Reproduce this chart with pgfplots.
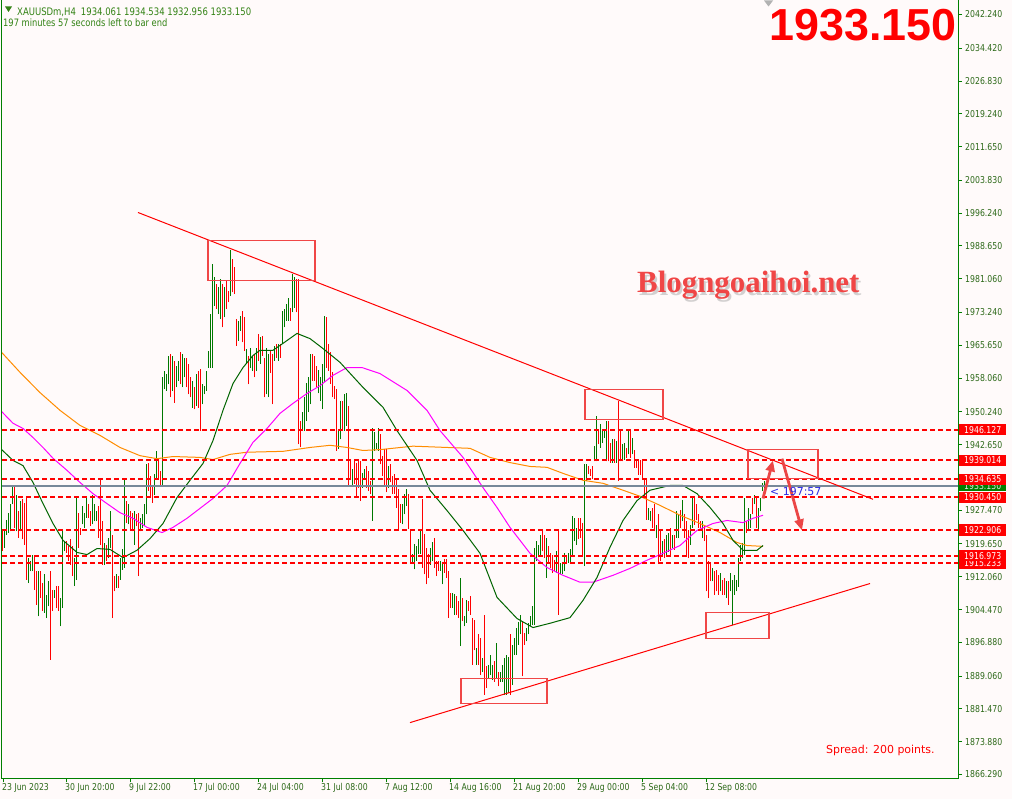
\documentclass[border=0pt]{standalone}
\usepackage{pgfplots}
\pgfplotsset{compat=1.18}
\usepackage{pgfplotstable}
\usepackage{fontspec}
\usetikzlibrary{arrows.meta}
\newfontfamily\tah{DejaVu Sans}[FakeStretch=0.82]
\newfontfamily\dvs{DejaVu Sans}
\newfontfamily\lsans{Liberation Sans}
\newfontfamily\lserif{Liberation Serif}

\definecolor{bg}{RGB}{255,250,250}
\definecolor{axgreen}{RGB}{0,128,0}
\definecolor{txtgreen}{RGB}{45,105,25}
\definecolor{hdrgreen}{RGB}{50,130,20}
\definecolor{barup}{RGB}{0,120,0}
\definecolor{bardn}{RGB}{255,0,0}
\definecolor{magreen}{RGB}{0,100,0}
\definecolor{magma}{RGB}{255,0,255}
\definecolor{orng}{RGB}{255,140,0}
\definecolor{slate}{RGB}{119,136,153}
\definecolor{boxred}{RGB}{240,70,70}
\definecolor{arrred}{RGB}{235,70,70}
\definecolor{lblblue}{RGB}{40,40,230}

% H4 bars: x (px), high, low, c (1 = up, 0 = down)
\pgfplotstableread{
x h l c
2.3 1922.6 1918.0 0
4.3 1922.6 1918.8 1
6.3 1925.3 1921.8 1
8.3 1926.9 1922.2 1
10.3 1928.8 1922.6 1
12.3 1933.3 1928.8 1
14.3 1933.3 1923.4 0
16.3 1931.1 1922.6 1
18.3 1927.3 1921.1 0
20.3 1929.6 1922.6 1
22.3 1930.0 1920.7 0
24.3 1929.2 1919.5 0
26.3 1930.7 1911.4 0
28.3 1916.4 1910.6 1
30.3 1915.7 1913.3 1
32.3 1917.2 1913.3 1
34.3 1917.2 1909.1 0
36.3 1913.3 1905.6 0
38.3 1913.3 1902.9 1
40.3 1913.3 1907.2 0
42.3 1910.6 1904.1 0
44.3 1912.6 1903.7 1
46.3 1907.9 1902.5 1
48.3 1911.0 1905.2 1
50.3 1913.3 1892.9 0
52.3 1909.1 1904.1 0
54.3 1909.1 1907.2 1
56.3 1909.9 1904.8 0
58.3 1909.9 1904.1 0
60.3 1907.2 1900.6 1
62.3 1923.0 1904.8 1
64.3 1920.3 1918.0 1
66.3 1920.3 1917.6 0
68.3 1919.1 1915.7 0
70.3 1920.7 1914.9 0
72.3 1919.1 1912.2 0
74.3 1916.4 1909.9 1
76.3 1930.7 1911.4 1
78.3 1926.9 1918.8 0
80.3 1923.4 1921.8 0
82.3 1928.4 1924.2 1
84.3 1926.9 1923.4 1
86.3 1930.7 1925.7 1
88.3 1928.8 1925.7 0
90.3 1927.3 1923.8 0
92.3 1931.1 1924.2 1
94.3 1928.8 1924.9 1
96.3 1927.3 1924.9 1
98.3 1928.4 1921.1 0
100.3 1935.0 1919.5 0
102.3 1924.9 1914.9 0
104.3 1919.9 1914.9 1
106.3 1919.5 1915.7 0
108.3 1921.1 1916.4 1
110.3 1927.3 1918.8 1
112.3 1921.8 1902.5 0
114.3 1912.2 1908.7 0
116.3 1912.6 1909.5 1
118.3 1912.2 1909.5 0
120.3 1916.4 1911.4 1
122.3 1918.4 1913.7 1
124.3 1935.0 1914.1 1
126.3 1929.6 1924.6 0
128.3 1928.8 1924.2 1
130.3 1927.3 1923.0 0
132.3 1926.9 1922.6 0
134.3 1927.3 1919.5 1
136.3 1926.5 1923.8 0
138.3 1926.9 1912.2 0
140.3 1925.7 1922.6 1
142.3 1926.5 1923.4 1
144.3 1928.8 1923.8 1
146.3 1938.1 1926.5 1
148.3 1938.5 1931.9 0
150.3 1935.4 1930.7 0
152.3 1933.1 1929.2 0
154.3 1935.8 1931.1 1
156.3 1941.2 1935.0 1
158.3 1939.2 1934.6 0
160.3 1936.5 1933.4 0
162.3 1958.2 1933.4 1
164.3 1959.7 1955.5 1
166.3 1959.0 1955.1 1
168.3 1963.2 1956.6 1
170.3 1963.6 1953.6 0
172.3 1963.2 1955.1 1
174.3 1962.1 1952.4 0
176.3 1960.9 1955.9 1
178.3 1962.1 1957.4 1
180.3 1964.0 1956.6 0
182.3 1963.6 1955.9 1
184.3 1962.8 1958.2 1
186.3 1962.8 1955.9 0
188.3 1961.3 1954.3 0
190.3 1958.2 1953.6 0
192.3 1957.4 1951.2 1
194.3 1955.9 1950.8 0
196.3 1959.0 1951.6 1
198.3 1959.7 1951.2 0
200.3 1960.1 1945.8 0
202.3 1956.6 1952.0 1
204.3 1956.3 1954.3 1
206.3 1959.7 1955.1 1
208.3 1964.4 1960.5 1
210.3 1972.9 1960.5 1
212.3 1984.5 1960.5 1
214.3 1981.4 1974.8 1
216.3 1979.8 1974.0 0
218.3 1979.1 1972.9 1
220.3 1981.0 1971.7 1
222.3 1979.8 1969.8 0
224.3 1979.1 1972.1 1
226.3 1980.6 1974.0 0
228.3 1978.3 1975.6 0
230.3 1987.6 1977.1 1
232.3 1985.6 1977.9 0
234.3 1983.7 1977.5 0
236.3 1971.7 1965.5 0
238.3 1971.3 1966.7 1
240.3 1972.5 1969.0 1
242.3 1973.7 1966.3 0
244.3 1972.1 1964.4 0
246.3 1964.8 1961.3 1
248.3 1963.2 1956.6 0
250.3 1965.1 1960.5 1
252.3 1963.2 1959.7 1
254.3 1963.6 1958.2 0
256.3 1965.1 1959.7 1
258.3 1968.2 1962.1 0
260.3 1967.5 1961.3 1
262.3 1967.9 1963.2 0
264.3 1962.8 1953.6 0
266.3 1965.1 1954.3 1
268.3 1963.6 1953.6 1
270.3 1964.4 1959.3 0
272.3 1963.6 1952.0 0
274.3 1965.5 1962.1 1
276.3 1965.9 1962.8 0
278.3 1965.9 1962.1 1
280.3 1965.9 1962.8 0
282.3 1973.6 1965.9 1
284.3 1974.0 1969.8 1
286.3 1975.2 1971.3 1
288.3 1976.7 1971.3 1
290.3 1974.4 1971.3 0
292.3 1982.2 1973.3 1
294.3 1981.4 1974.4 1
296.3 1981.0 1973.3 0
298.3 1981.0 1942.7 0
300.3 1948.1 1942.0 0
302.3 1950.1 1945.8 1
304.3 1953.6 1945.8 1
306.3 1957.0 1948.1 1
308.3 1958.2 1950.1 1
310.3 1963.6 1952.0 1
312.3 1963.6 1957.4 0
314.3 1963.2 1957.4 0
316.3 1960.9 1955.9 0
318.3 1960.0 1954.5 1
320.3 1958.2 1952.8 1
322.3 1961.3 1950.9 1
324.3 1972.5 1957.1 1
326.3 1972.1 1960.5 0
328.3 1966.0 1959.8 0
330.3 1964.0 1956.7 0
332.3 1959.4 1953.6 0
334.3 1956.3 1953.2 0
336.3 1955.5 1941.2 0
338.3 1945.9 1941.6 1
340.3 1952.8 1943.9 1
342.3 1952.8 1945.9 0
344.3 1954.4 1945.9 1
346.3 1954.7 1947.0 1
348.3 1951.7 1933.1 0
350.3 1938.9 1935.0 0
352.3 1937.0 1933.1 1
354.3 1938.9 1933.5 0
356.3 1938.5 1930.4 0
358.3 1938.9 1932.7 0
360.3 1938.9 1929.6 0
362.3 1936.2 1932.7 1
364.3 1937.0 1934.6 1
366.3 1937.7 1932.7 0
368.3 1936.6 1931.9 0
370.3 1934.3 1931.2 0
372.3 1946.6 1925.0 1
374.3 1945.5 1941.2 1
376.3 1943.1 1941.6 1
378.3 1946.6 1941.2 1
380.3 1945.1 1938.1 0
382.3 1940.1 1935.4 0
384.3 1941.6 1933.1 0
386.3 1941.6 1931.6 0
388.3 1937.7 1932.7 1
390.3 1938.1 1933.9 0
392.3 1935.4 1931.2 0
394.3 1935.8 1931.2 0
396.3 1935.0 1928.1 0
398.3 1932.3 1922.7 0
400.3 1928.8 1924.6 0
402.3 1928.8 1924.2 1
404.3 1931.2 1926.5 1
406.3 1932.3 1928.5 1
408.3 1931.2 1923.1 0
410.3 1922.7 1915.3 0
412.3 1917.3 1915.3 1
414.3 1919.6 1913.8 1
416.3 1919.2 1915.7 1
418.3 1920.7 1917.3 1
420.3 1922.7 1917.3 1
422.3 1930.0 1914.2 0
424.3 1921.9 1912.6 0
426.3 1918.8 1910.3 0
428.3 1917.3 1911.8 0
430.3 1918.8 1914.9 1
432.3 1920.0 1915.7 1
434.3 1921.1 1914.2 0
436.3 1915.7 1912.2 0
438.3 1915.7 1913.4 0
440.3 1915.7 1913.4 1
442.3 1915.3 1910.3 1
444.3 1916.1 1913.0 0
446.3 1916.1 1911.8 0
448.3 1913.4 1902.6 0
450.3 1908.4 1904.9 0
452.3 1908.4 1904.9 1
454.3 1908.0 1903.3 1
456.3 1907.6 1903.3 0
458.3 1906.4 1902.6 0
460.3 1911.8 1896.0 1
462.3 1907.2 1901.8 0
464.3 1903.0 1900.6 1
466.3 1906.8 1901.4 1
468.3 1906.4 1904.1 0
470.3 1907.6 1903.3 0
472.3 1902.6 1891.7 0
474.3 1902.0 1895.0 0
476.3 1895.6 1891.7 1
478.3 1898.7 1891.7 0
480.3 1897.9 1889.4 0
482.3 1893.2 1890.1 1
484.3 1903.3 1884.7 0
486.3 1891.3 1886.3 0
488.3 1891.7 1888.6 1
490.3 1894.0 1889.4 1
492.3 1891.7 1888.2 1
494.3 1892.5 1887.8 0
496.3 1896.7 1888.6 1
498.3 1890.1 1886.7 0
500.3 1890.1 1887.8 1
502.3 1891.7 1887.8 1
504.3 1893.2 1884.7 1
506.3 1894.0 1884.7 1
508.3 1893.6 1885.1 1
510.3 1898.7 1884.7 0
512.3 1896.3 1887.0 1
514.3 1897.9 1894.0 1
516.3 1900.2 1894.0 1
518.3 1901.7 1896.3 1
520.3 1903.3 1898.7 1
522.3 1901.7 1889.0 0
524.3 1899.0 1896.3 0
526.3 1900.2 1897.1 1
528.3 1901.4 1898.7 1
530.3 1902.9 1900.6 1
532.3 1905.2 1901.0 1
534.3 1918.8 1901.0 1
536.3 1920.3 1915.7 1
538.3 1919.5 1917.2 1
540.3 1921.8 1917.2 1
542.3 1923.0 1918.0 0
544.3 1921.8 1916.4 0
546.3 1921.1 1911.8 1
548.3 1919.1 1915.3 0
550.3 1917.6 1914.1 0
552.3 1917.2 1913.0 0
554.3 1916.0 1913.3 0
556.3 1918.0 1913.0 1
558.3 1922.6 1903.3 0
560.3 1915.3 1912.6 1
562.3 1915.3 1912.6 1
564.3 1917.6 1913.3 1
566.3 1917.2 1915.3 0
568.3 1917.6 1915.3 1
570.3 1918.4 1915.3 1
572.3 1926.1 1917.2 1
574.3 1925.7 1920.3 1
576.3 1923.4 1919.5 1
578.3 1925.7 1920.7 0
580.3 1925.7 1921.1 0
582.3 1924.5 1916.8 0
584.3 1938.1 1914.5 1
586.3 1938.1 1934.2 1
588.3 1937.7 1935.8 0
590.3 1936.9 1935.4 0
592.3 1937.7 1934.6 0
594.3 1942.3 1938.8 1
596.3 1949.3 1938.8 1
598.3 1945.8 1942.7 0
600.3 1947.4 1941.9 1
602.3 1945.8 1943.1 1
604.3 1946.2 1944.3 1
606.3 1948.1 1938.8 1
608.3 1948.1 1938.8 0
610.3 1943.1 1938.5 0
612.3 1943.9 1938.5 1
614.3 1943.9 1938.5 0
616.3 1943.5 1938.5 1
618.3 1952.8 1934.2 0
620.3 1945.8 1938.8 0
622.3 1942.7 1938.8 1
624.3 1943.1 1939.2 1
626.3 1941.9 1939.6 0
628.3 1945.8 1940.4 1
630.3 1946.2 1939.6 0
632.3 1944.2 1940.4 1
634.3 1941.5 1937.3 0
636.3 1938.8 1937.3 0
638.3 1938.8 1935.7 0
640.3 1939.2 1935.7 0
642.3 1938.8 1935.0 0
644.3 1935.0 1930.3 0
646.3 1935.0 1925.3 0
648.3 1928.0 1925.3 1
650.3 1927.2 1924.9 1
652.3 1928.0 1923.4 0
654.3 1928.8 1922.6 0
656.3 1924.1 1921.0 1
658.3 1926.5 1915.2 0
660.3 1922.6 1915.6 0
662.3 1920.3 1917.2 1
664.3 1920.7 1916.4 0
666.3 1921.8 1917.2 1
668.3 1922.2 1917.9 1
670.3 1923.4 1917.2 0
672.3 1921.8 1918.7 1
674.3 1921.8 1918.3 0
676.3 1927.2 1921.0 1
678.3 1926.5 1921.0 1
680.3 1927.6 1923.4 0
682.3 1929.9 1924.9 1
684.3 1926.5 1921.0 0
686.3 1924.9 1916.8 0
688.3 1923.0 1916.4 0
690.3 1924.1 1919.5 1
692.3 1930.3 1923.4 1
694.3 1930.3 1924.1 0
696.3 1928.8 1925.3 0
698.3 1926.5 1923.4 0
700.3 1924.9 1923.4 0
702.3 1924.9 1921.0 1
704.3 1923.8 1920.3 0
706.3 1921.8 1908.7 0
708.3 1915.6 1907.1 0
710.3 1915.2 1911.0 0
712.3 1914.1 1911.0 1
714.3 1913.3 1907.9 0
716.3 1913.7 1908.7 0
718.3 1912.5 1907.9 0
720.3 1912.9 1908.7 1
722.3 1911.4 1907.9 0
724.3 1911.8 1907.9 0
726.3 1911.0 1907.1 1
728.3 1911.0 1905.6 0
730.3 1912.9 1908.7 1
732.3 1911.4 1900.9 1
734.3 1912.5 1907.9 1
736.3 1911.4 1908.7 1
738.3 1916.4 1909.8 1
740.3 1919.5 1915.6 1
742.3 1919.9 1916.4 1
744.3 1930.3 1917.2 1
746.3 1924.9 1922.2 0
748.3 1928.0 1922.6 1
750.3 1926.5 1923.4 1
752.3 1930.3 1926.5 0
754.3 1931.1 1928.8 1
756.3 1930.3 1923.4 0
758.3 1928.0 1922.6 1
760.3 1930.3 1927.2 1
762.3 1933.8 1931.9 1
764.3 1934.2 1932.6 1
}\bars

\begin{document}
\begin{tikzpicture}
\fill[bg] (0,0) rectangle (1012bp,798bp);
\begin{axis}[
  at={(2bp,20bp)}, anchor=south west,
  scale only axis, width=956bp, height=778bp,
  xmin=2, xmax=958, ymin=1865.36, ymax=2045.48,
  axis x line*=bottom, axis y line*=right,
  axis line style={axgreen, line width=1bp},
  tick align=outside, major tick length=4bp,
  tick style={axgreen, line width=1bp},
  clip=false,
  xtick={3,66,130,194,258,322,386,450,514,578,642,706},
  xticklabels={23 Jun 2023, 30 Jun 20:00, 9 Jul 22:00, 17 Jul 00:00, 24 Jul 04:00, 31 Jul 08:00, 7 Aug 12:00, 14 Aug 16:00, 21 Aug 20:00, 29 Aug 00:00, 5 Sep 04:00, 12 Sep 08:00},
  ytick={2042.24,2034.42,2026.83,2019.24,2011.65,2003.83,1996.24,1988.65,1981.06,1973.24,1965.65,1958.06,1950.24,1942.65,1927.47,1919.65,1912.06,1904.47,1896.88,1889.06,1881.47,1873.88,1866.29},
  ticklabel style={font=\tah\fontsize{9.5}{11}\selectfont, text=txtgreen, inner sep=0pt},
  xticklabel style={anchor=north west, xshift=-1bp, yshift=-1bp},
  yticklabel style={anchor=west, xshift=3bp,
    /pgf/number format/.cd, fixed, fixed zerofill, precision=3, 1000 sep={}, assume math mode=true},
]
% bars
\addplot[barup, line width=1bp, mark=none, quiver={u=0, v=\thisrow{h}-\thisrow{l}},
  x filter/.expression={\thisrow{c}>0.5 ? x : nan}] table[x=x, y=l] {\bars};
\addplot[bardn, line width=1bp, mark=none, quiver={u=0, v=\thisrow{h}-\thisrow{l}},
  x filter/.expression={\thisrow{c}<0.5 ? x : nan}] table[x=x, y=l] {\bars};

% moving averages
\addplot[orng, line width=1bp, mark=none] coordinates {
(1.7,1964.0) (20,1959.4) (40,1954.7) (60,1950.6) (80,1947.1) (100,1944.8) (120,1942.0)
(140,1940.1) (157,1939.4) (173,1939.9) (200,1939.7) (213,1939.2) (230,1940.4) (247,1940.9)
(283,1941.1) (310,1942.0) (330,1942.5) (347,1942.0) (363,1941.3) (380,1941.5) (413,1942.3)
(447,1942.0) (470,1941.8) (490,1939.7) (510,1938.5) (530,1937.6) (547,1937.4) (563,1936.0)
(583,1934.4) (603,1933.7) (623,1932.1) (640,1930.7) (660,1928.6) (680,1926.3) (700,1924.4)
(720,1922.3) (737,1920.0) (747,1919.3) (763,1919.1)};
\addplot[magma, line width=1bp, mark=none] coordinates {
(1.7,1950.3) (13,1947.6) (23,1946.4) (33,1944.3) (43,1942.0) (53,1939.5) (67,1936.7)
(80,1933.9) (93,1931.3) (107,1929.0) (120,1926.9) (133,1925.6) (147,1923.5) (162,1922.3)
(173,1923.5) (187,1925.6) (200,1927.9) (213,1930.2) (227,1933.2) (240,1938.3) (253,1943.2)
(267,1946.4) (280,1949.9) (293,1952.2) (307,1954.5) (320,1956.3) (333,1958.7) (347,1960.5)
(362,1960.5) (380,1959.1) (407,1955.2) (427,1950.6) (440,1945.9) (463,1939.7) (483,1932.7)
(497,1928.1) (510,1923.5) (530,1917.5) (547,1914.2) (563,1912.4) (580,1910.8) (593,1910.8)
(613,1912.4) (630,1914.0) (647,1915.9) (663,1917.5) (680,1919.3) (697,1922.8) (713,1924.4)
(727,1925.1) (743,1924.6) (753,1925.6) (763,1926.3)};
\addplot[magreen, line width=1bp, mark=none] coordinates {
(1.7,1941.5) (13,1939.0) (23,1937.8) (33,1933.9) (43,1929.0) (53,1924.4) (63,1920.5)
(77,1917.7) (87,1917.2) (97,1918.6) (110,1918.4) (123,1916.5) (137,1918.2) (150,1920.9)
(163,1924.4) (177,1930.4) (190,1934.4) (203,1938.3) (213,1943.6) (223,1950.6) (233,1956.8)
(243,1960.5) (253,1963.3) (260,1964.5) (273,1964.5) (283,1966.1) (297,1968.4) (310,1967.2)
(323,1964.9) (340,1961.7) (363,1955.9) (383,1951.3) (397,1945.9) (417,1939.0) (430,1932.1)
(447,1927.4) (463,1922.8) (480,1917.5) (497,1907.3) (517,1902.4) (533,1900.3) (550,1901.3)
(570,1902.6) (583,1906.6) (597,1911.9) (610,1918.9) (623,1925.1) (637,1929.7) (650,1932.1)
(670,1933.2) (683,1933.2) (697,1931.3) (710,1928.1) (723,1924.4) (733,1920.5) (743,1918.2)
(757,1918.2) (763,1919.3)};

% horizontal levels (small shifts put each line on one pixel row)
\tikzset{lv/.style={red, line width=1.2bp, dash pattern=on 5bp off 3bp}}
\draw[slate, line width=1.2bp, yshift=-0.31bp] (axis cs:2,1933.150) -- (axis cs:958,1933.150);
\draw[lv, yshift=-0.36bp] (axis cs:2,1946.127) -- (axis cs:958,1946.127);
\draw[lv, yshift=0.36bp] (axis cs:2,1939.014) -- (axis cs:958,1939.014);
\draw[lv, yshift=0.27bp] (axis cs:2,1934.635) -- (axis cs:958,1934.635);
\draw[lv, yshift=0.35bp] (axis cs:2,1930.450) -- (axis cs:958,1930.450);
\draw[lv, yshift=-0.06bp] (axis cs:2,1922.906) -- (axis cs:958,1922.906);
\draw[lv, yshift=-0.44bp] (axis cs:2,1916.973) -- (axis cs:958,1916.973);
\draw[lv, yshift=0.08bp] (axis cs:2,1915.233) -- (axis cs:958,1915.233);

% trend lines
\draw[red, line width=1bp] (axis cs:138,1996.4) -- (axis cs:873,1930.0);
\draw[red, line width=1bp] (axis cs:410,1878.3) -- (axis cs:870,1910.5);

% boxes
\draw[boxred, line width=1.2bp] (axis cs:208,1989.9) rectangle (axis cs:315,1980.7);
\draw[boxred, line width=1.2bp] (axis cs:585,1955.4) rectangle (axis cs:663,1948.5);
\draw[boxred, line width=1.2bp] (axis cs:748,1941.5) rectangle (axis cs:818,1934.8);
\draw[boxred, line width=1.2bp] (axis cs:461,1888.5) rectangle (axis cs:547,1882.7);
\draw[boxred, line width=1.2bp] (axis cs:706,1903.8) rectangle (axis cs:769,1897.8);

% arrows
\draw[arrred, line width=2.8bp, -{Triangle[length=11bp,width=9bp]}] (axis cs:763,1930.2) -- (axis cs:773,1939.0);
\draw[arrred, line width=2.8bp, -{Triangle[length=11bp,width=9bp]}] (axis cs:782,1939.4) -- (axis cs:802,1922.8);

% left border
\draw[axgreen, line width=1bp] (axis cs:2,1865.36) -- (axis cs:2,2045.48);

% price labels on the right
\tikzset{pl/.style={anchor=west, minimum width=47bp, minimum height=11.5bp, inner sep=0pt,
  font=\tah\fontsize{9.5}{11}\selectfont}}
\node[pl, fill=red, text=white] at (axis cs:959,1946.127) {1946.127};
\node[pl, fill=red, text=white] at (axis cs:959,1939.014) {1939.014};
\node[pl, fill=axgreen, text=white!80!gray] at (axis cs:959,1933.150) {1933.150};
\node[pl, fill=red, text=white] at (axis cs:959,1934.635) {1934.635};
\node[pl, fill=red, text=white] at (axis cs:959,1930.450) {1930.450};
\node[pl, fill=red, text=white] at (axis cs:959,1922.906) {1922.906};
\node[pl, fill=red, text=white] at (axis cs:959,1915.233) {1915.233};
\node[pl, fill=red, text=white] at (axis cs:959,1916.973) {1916.973};
\end{axis}

% texts (page coordinates, 1bp = 1px)
\fill[hdrgreen] (5bp,792bp) -- (12bp,792bp) -- (8.5bp,786.5bp) -- cycle;
\node[anchor=base west, inner sep=0pt, text=hdrgreen, font=\tah\fontsize{10.4}{12}\selectfont]
  at (17bp,782.5bp) {XAUUSDm,H4\hspace{5pt}1934.061 1934.534 1932.956 1933.150};
\node[anchor=base west, inner sep=0pt, text=hdrgreen, font=\tah\fontsize{10.2}{12}\selectfont]
  at (3bp,771.5bp) {197 minutes 57 seconds left to bar end};
\fill[gray!60] (764bp,798bp) -- (773bp,798bp) -- (768.5bp,792bp) -- cycle;
\node[anchor=base east, inner sep=0pt, text=red, font=\lsans\bfseries\fontsize{45}{50}\selectfont]
  at (957bp,758bp) {1933.150};
\node[anchor=base west, inner sep=0pt, text=black!35, opacity=0.5, font=\lserif\bfseries\fontsize{31}{36}\selectfont]
  at (639bp,503bp) {Blogngoaihoi.net};
\node[anchor=base west, inner sep=0pt, text=boxred, font=\lserif\bfseries\fontsize{31}{36}\selectfont]
  at (637bp,506bp) {Blogngoaihoi.net};
\node[anchor=base west, inner sep=0pt, text=lblblue, font=\dvs\fontsize{11}{13}\selectfont]
  at (770bp,303bp) {< 197:57};
\node[anchor=base west, inner sep=0pt, text=red, font=\dvs\fontsize{11}{13}\selectfont]
  at (826bp,45bp) {Spread: 200 points.};
\end{tikzpicture}
\end{document}
